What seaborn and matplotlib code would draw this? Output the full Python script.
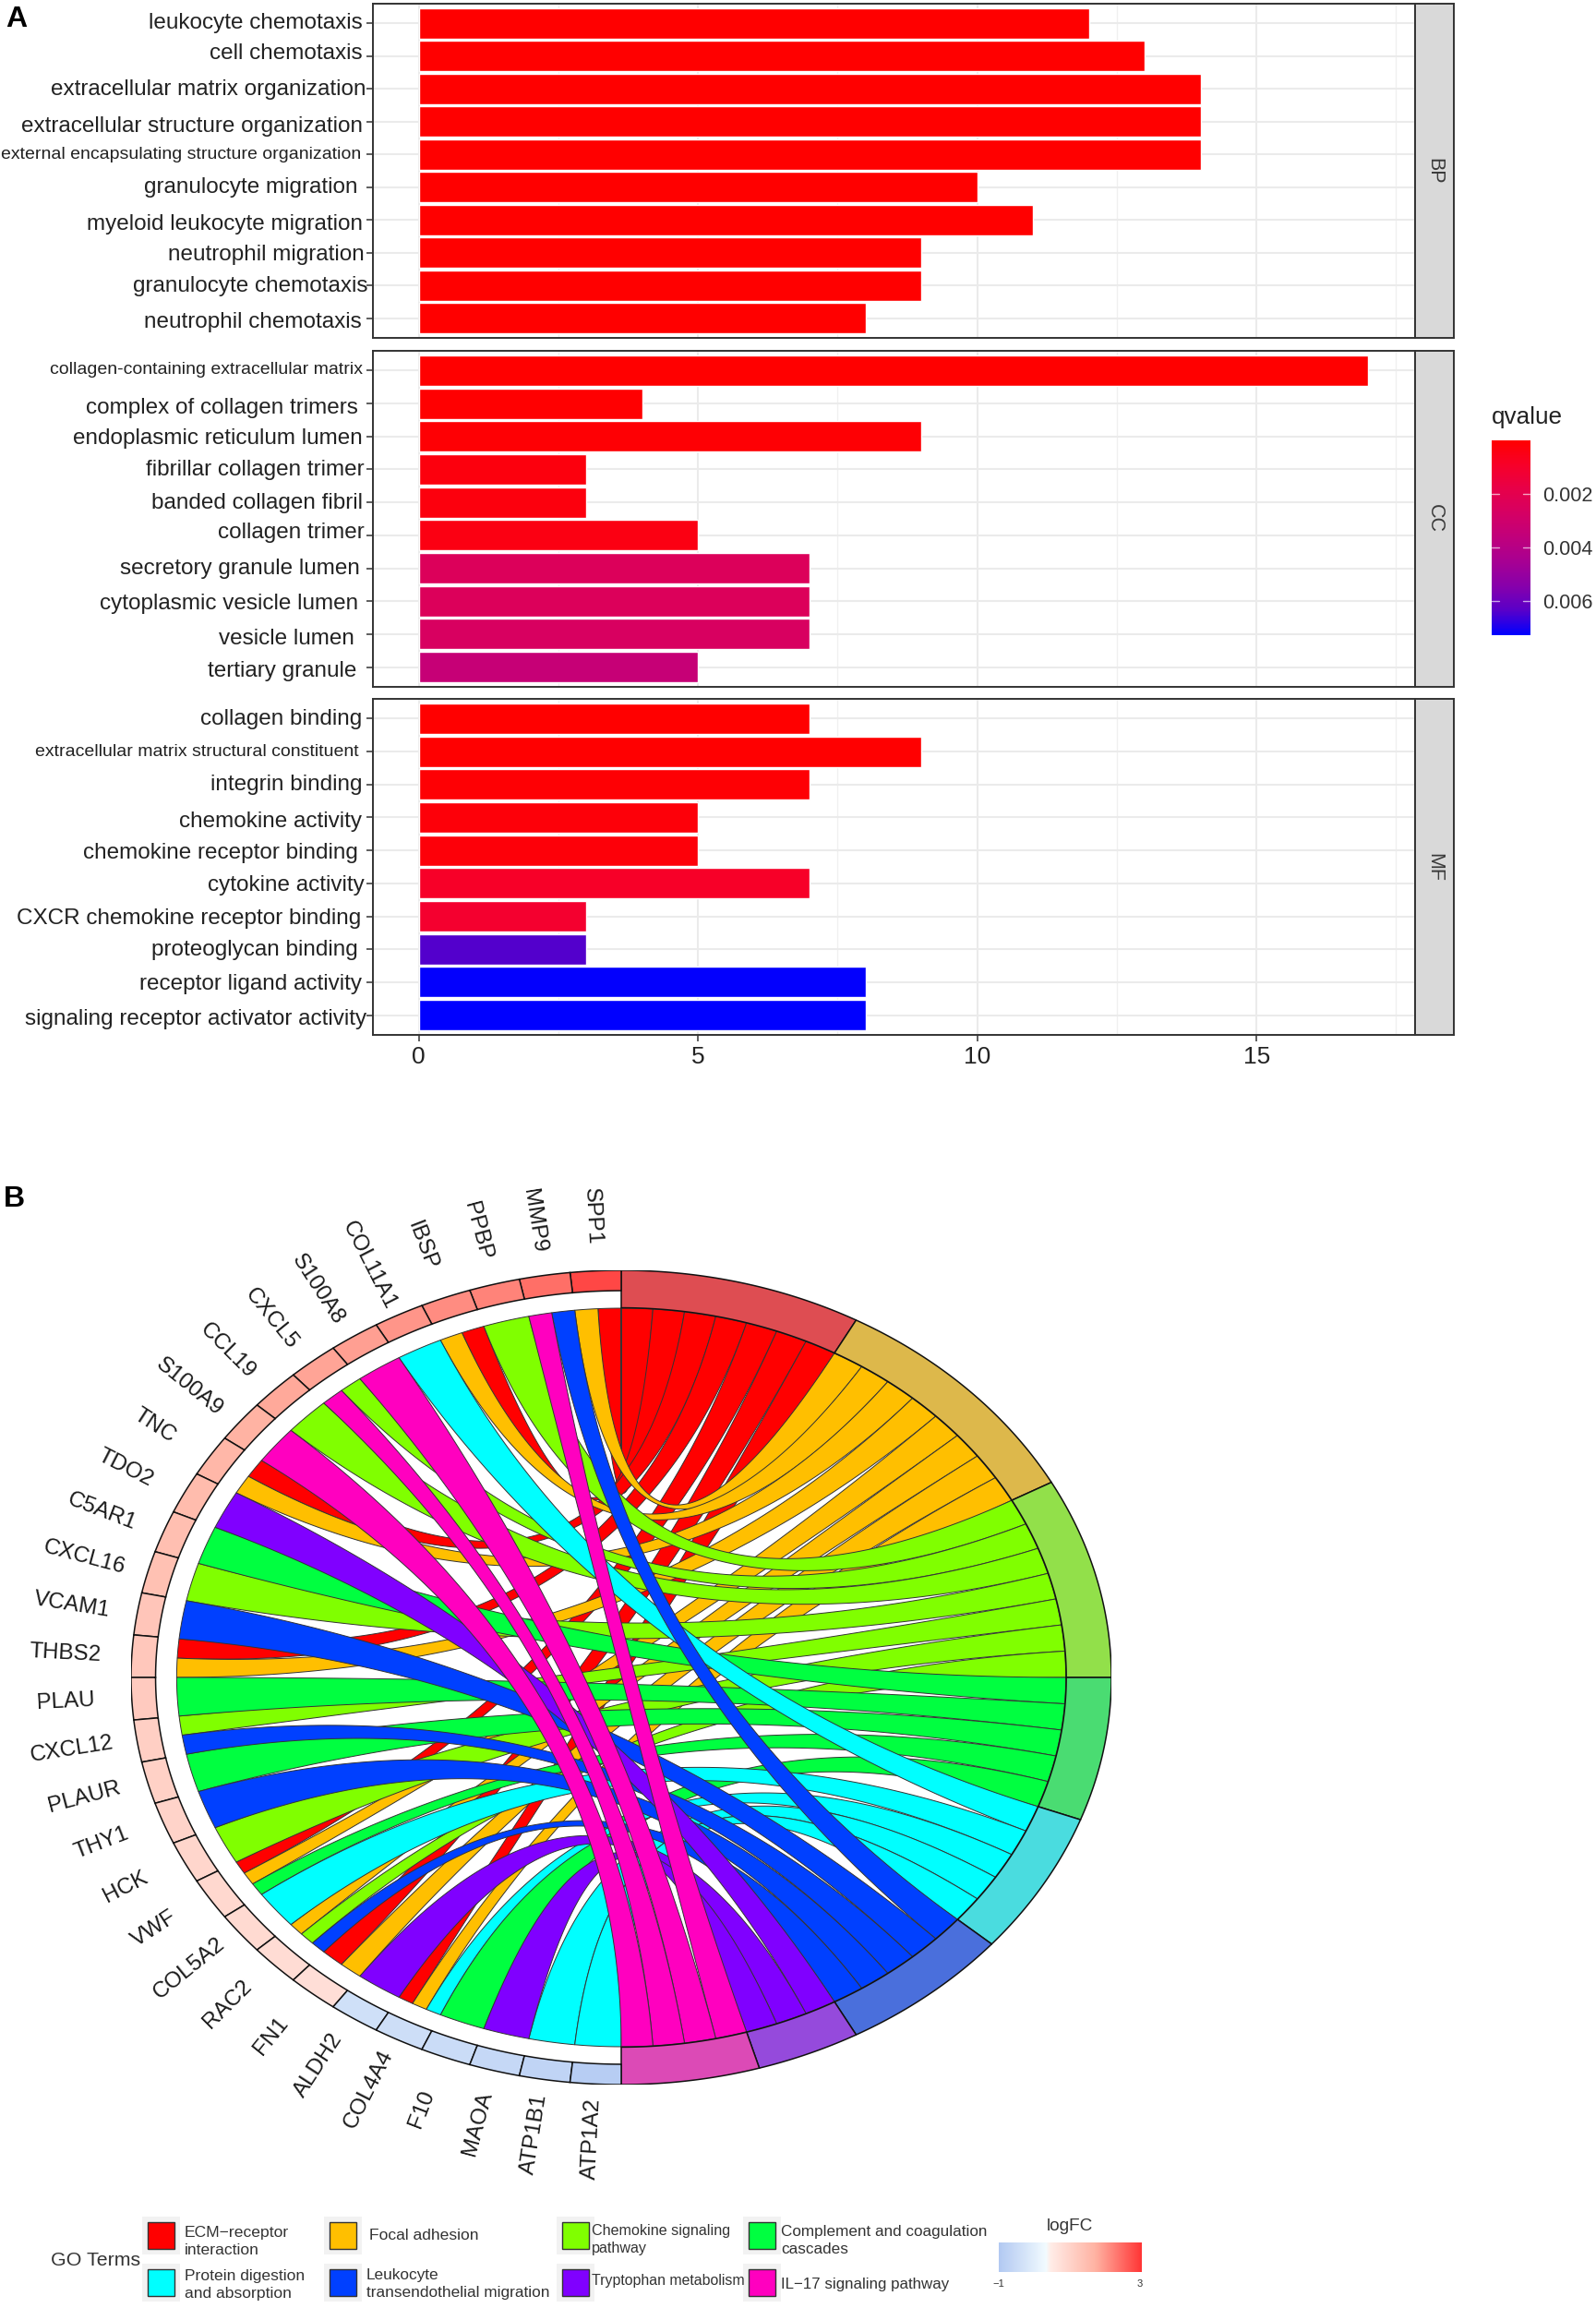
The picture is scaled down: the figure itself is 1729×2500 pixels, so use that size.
import numpy as np
import pandas as pd
import matplotlib
matplotlib.use("Agg")
import matplotlib.pyplot as plt
from matplotlib.colors import LinearSegmentedColormap, Normalize, to_hex
from matplotlib.cm import ScalarMappable
from matplotlib.patches import Rectangle
from matplotlib.transforms import ScaledTranslation
import seaborn as sns

# ---------- data: panel A ----------
bp_terms = ["leukocyte chemotaxis", "cell chemotaxis", "extracellular matrix organization",
            "extracellular structure organization", "external encapsulating structure organization",
            "granulocyte migration", "myeloid leukocyte migration", "neutrophil migration",
            "granulocyte chemotaxis", "neutrophil chemotaxis"]
bp_counts = [12, 13, 14, 14, 14, 10, 11, 9, 9, 8]
bp_q = [1e-5, 1e-5, 1e-5, 1e-5, 1e-5, 1e-5, 1e-5, 1e-5, 1e-5, 1e-5]

cc_terms = ["collagen-containing extracellular matrix", "complex of collagen trimers",
            "endoplasmic reticulum lumen", "fibrillar collagen trimer", "banded collagen fibril",
            "collagen trimer", "secretory granule lumen", "cytoplasmic vesicle lumen",
            "vesicle lumen", "tertiary granule"]
cc_counts = [17, 4, 9, 3, 3, 5, 7, 7, 7, 5]
cc_q = [1e-5, 5e-5, 1e-4, 3e-4, 3e-4, 4e-4, 2.4e-3, 2.4e-3, 2.6e-3, 3.4e-3]

mf_terms = ["collagen binding", "extracellular matrix structural constituent", "integrin binding",
            "chemokine activity", "chemokine receptor binding", "cytokine activity",
            "CXCR chemokine receptor binding", "proteoglycan binding", "receptor ligand activity",
            "signaling receptor activator activity"]
mf_counts = [7, 9, 7, 5, 5, 7, 3, 3, 8, 8]
mf_q = [1e-5, 5e-5, 1e-4, 2e-4, 2e-4, 9e-4, 1.1e-3, 6.4e-3, 7.25e-3, 7.28e-3]

panel_names = ["BP", "CC", "MF"]
x_ticks = [0, 5, 10, 15]
q_ticks = [0.002, 0.004, 0.006]
q_max = 0.00728

# ---------- data: panel B ----------
pathways = ["ECM\u2212receptor\ninteraction", "Focal adhesion", "Chemokine signaling\npathway",
            "Complement and coagulation\ncascades", "Protein digestion\nand absorption",
            "Leukocyte\ntransendothelial migration", "Tryptophan metabolism",
            "IL\u221217 signaling pathway"]
ribbon_colors = ["#FF0000", "#FFBF00", "#80FF00", "#00FF40", "#00FFFF", "#0040FF", "#8000FF", "#FF00BF"]
ring_colors = ["#DE4D52", "#DDB84B", "#92E04A", "#4ADC72", "#4ADCDF", "#4A6FDC", "#954ADC", "#DC4AB6"]

genes = ["SPP1", "MMP9", "PPBP", "IBSP", "COL11A1", "S100A8", "CXCL5", "CCL19", "S100A9", "TNC",
         "TDO2", "C5AR1", "CXCL16", "VCAM1", "THBS2", "PLAU", "CXCL12", "PLAUR", "THY1", "HCK",
         "VWF", "COL5A2", "RAC2", "FN1", "ALDH2", "COL4A4", "F10", "MAOA", "ATP1B1", "ATP1A2"]
log_fc = [2.8, 2.4, 2.2, 2.1, 2.0, 1.9, 1.85, 1.8, 1.7, 1.6, 1.5, 1.45, 1.4, 1.3, 1.25, 1.2,
          1.1, 1.05, 1.0, 0.95, 0.9, 0.85, 0.8, 0.75, -0.4, -0.45, -0.5, -0.6, -0.7, -0.9]
# indices into pathways, one list per gene
memberships = [[0, 1], [5, 7], [2], [0, 1], [4], [7], [2, 7], [2], [7], [0, 1],
               [6], [3], [2], [5], [0, 1], [3], [2, 5], [3], [5], [2],
               [0, 1, 3], [4], [1, 2, 5], [0, 1], [6], [0, 1, 4], [3], [6], [4], [4]]

# ---------- layout ----------
W, H = 1729, 2500
sns.set_theme(style="white")
plt.rcParams["font.family"] = ["Liberation Sans", "DejaVu Sans"]
fig = plt.figure(figsize=(W / 100, H / 100), dpi=100, facecolor="white")


def px_axes(x0, y0, x1, y1, **kw):
    return fig.add_axes([x0 / W, 1 - y1 / H, (x1 - x0) / W, (y1 - y0) / H], **kw)


q_cmap = LinearSegmentedColormap.from_list(
    "q", ["#FF0000", "#F70029", "#E70049", "#D50064", "#C0007C", "#A70093", "#8700AB", "#5800C9", "#0000FF"])
q_norm = Normalize(0, q_max)

panel_rows = [(4, 366), (380, 744), (757, 1121)]
panel_left, panel_right, strip_right = 403.5, 1533, 1575
INK = "#333333"

label_right = [
    [393, 393, 396.5, 393, 391.5, 387, 393, 395, 398.5, 391.5],
    [393, 387.5, 393, 395, 393, 395, 390, 388.5, 384, 386.5],
    [392, 389, 392, 392, 388, 395, 391, 388, 392, 397],
]
label_size = [
    [17.5, 17.5, 17.5, 17.5, 14, 17.5, 17.5, 17.5, 17.5, 17.5],
    [14, 17.5, 17.5, 17.5, 17.5, 17.5, 17.5, 17.5, 17.5, 17.5],
    [17.5, 14, 17.5, 17.5, 17.5, 17.5, 17.5, 17.5, 17.5, 17.5],
]
# vertical nudges of the hand-placed labels, in pixels (positive = down)
label_nudge = [
    [-3, -5, -2, 3, -2, -2, 2, 0, -2, 2],
    [-3, 2, 0, -2, -2, -5, -2, 0, 3, 2],
    [-2, -2, -2, 2, 0, 0, 0, -2, 0, 2],
]
tick_px = 7

panels = [(bp_terms, bp_counts, bp_q), (cc_terms, cc_counts, cc_q), (mf_terms, mf_counts, mf_q)]
for k, (terms, counts, qs) in enumerate(panels):
    y0, y1 = panel_rows[k]
    ax = px_axes(panel_left, y0, panel_right, y1)
    df = pd.DataFrame({"term": terms, "count": counts, "q": qs})
    pal = {t: to_hex(q_cmap(q_norm(q))) for t, q in zip(terms, qs)}
    sns.barplot(data=df, y="term", x="count", hue="term", order=terms, hue_order=terms,
                palette=pal, dodge=False, legend=False, width=0.93, saturation=1, ax=ax)
    ax.set_xlim(-0.83, 17.84)
    ax.set_ylim(9.6, -0.6)
    ax.set_xlabel("")
    ax.set_ylabel("")
    ax.set_axisbelow(True)
    ax.grid(True, which="major", color="#EBEBEB", lw=1.5)
    ax.set_xticks(x_ticks)
    ax.set_xticks([2.5, 7.5, 12.5, 17.5], minor=True)
    ax.grid(True, which="minor", axis="x", color="#F0F0F0", lw=1.0)
    ax.tick_params(axis="x", which="minor", length=0)
    ax.tick_params(axis="y", length=tick_px * 0.72, width=1.1, color=INK, labelcolor="#222222", left=True)
    if k == 2:
        ax.tick_params(axis="x", which="major", length=tick_px * 0.72, width=1.1, color=INK,
                       labelsize=19, labelcolor="#222222", pad=3.5, bottom=True)
    else:
        ax.tick_params(axis="x", which="major", length=0, labelbottom=False)
    for spine in ax.spines.values():
        spine.set_color(INK)
        spine.set_linewidth(1.4)
    for i, tick in enumerate(ax.yaxis.get_major_ticks()):
        tick.set_pad((panel_left - tick_px - label_right[k][i]) * 0.72)
        tick.label1.set_fontsize(label_size[k][i])
        shift = ScaledTranslation(0, -label_nudge[k][i] * 0.72 / 72, fig.dpi_scale_trans)
        tick.label1.set_transform(tick.label1.get_transform() + shift)

    sx = px_axes(panel_right, y0, strip_right, y1)
    sx.set_facecolor("#D9D9D9")
    sx.set_xticks([])
    sx.set_yticks([])
    for spine in sx.spines.values():
        spine.set_color(INK)
        spine.set_linewidth(1.4)
    sx.text(0.5, 0.5, panel_names[k], rotation=-90, ha="center", va="center",
            fontsize=15.5, color="#3A3A3A", transform=sx.transAxes)

# q-value colour bar
cax = px_axes(1616, 477, 1658, 688)
cb = fig.colorbar(ScalarMappable(norm=q_norm, cmap=q_cmap), cax=cax)
cb.outline.set_visible(False)
cax.invert_yaxis()
cb.set_ticks(q_ticks)
cb.set_ticklabels([f"{q:.3f}" for q in q_ticks])
cax.tick_params(length=0, labelsize=15.6, labelcolor="#333333", pad=9.5)
for q in q_ticks:
    cax.plot([0, 0.2], [q, q], color="white", alpha=0.65, lw=1.0, transform=cax.get_yaxis_transform())
    cax.plot([0.8, 1], [q, q], color="white", alpha=0.65, lw=1.0, transform=cax.get_yaxis_transform())

# ---------- panel B: chord diagram ----------
ch = px_axes(142, 1376, 1204, 2258)
ch.set_xlim(-1, 1)
ch.set_ylim(-1, 1)
ch.axis("off")

fc_cmap = LinearSegmentedColormap.from_list(
    "fc", [(0, "#B2C9F2"), (0.33, "#F2FBFF"), (0.36, "#FFEDE8"), (0.675, "#FFB3A3"), (1, "#FF3535")])
fc_norm = Normalize(-1, 3)


def polar(theta_deg, r):
    t = np.deg2rad(theta_deg)
    return r * np.sin(t), r * np.cos(t)


def ring(t0, t1, r0, r1, face):
    th = np.linspace(t0, t1, 60)
    xo, yo = polar(th, r1)
    xi, yi = polar(th[::-1], r0)
    ch.fill(np.r_[xo, xi], np.r_[yo, yi], facecolor=face, edgecolor="#111111", lw=1.1,
            joinstyle="miter", zorder=5)


n_genes = len(genes)
gene_step = 180 / n_genes
n_links = sum(len(m) for m in memberships)
term_step = 180 / n_links
R_LINK = 0.907

# term sectors
term_members = [[g for g, m in enumerate(memberships) if p in m] for p in range(len(pathways))]
cursor = 0
term_start = []
for p, members in enumerate(term_members):
    term_start.append(cursor)
    ring(cursor * term_step, (cursor + len(members)) * term_step, 0.908, 1.0, ring_colors[p])
    cursor += len(members)

# ribbons
t = np.linspace(0, 1, 101)
for p, members in enumerate(term_members):
    for j, g in enumerate(members):
        m = memberships[g]
        pos = m.index(p)
        g0 = -(g + pos / len(m)) * gene_step
        g1 = -(g + (pos + 1) / len(m)) * gene_step
        t0 = (term_start[p] + j) * term_step
        t1 = (term_start[p] + j + 1) * term_step
        xa, ya = polar(g0, R_LINK)
        xb, yb = polar(t0, R_LINK)
        xc, yc = polar(t1, R_LINK)
        xd, yd = polar(g1, R_LINK)
        x1 = (1 - t) ** 2 * xa + t ** 2 * xb
        y1 = (1 - t) ** 2 * ya + t ** 2 * yb
        x2 = (1 - t) ** 2 * xc + t ** 2 * xd
        y2 = (1 - t) ** 2 * yc + t ** 2 * yd
        ax_t, ay_t = polar(np.linspace(t0, t1, 8), R_LINK)
        ax_g, ay_g = polar(np.linspace(g1, g0, 8), R_LINK)
        ch.fill(np.r_[x1, ax_t, x2, ax_g], np.r_[y1, ay_t, y2, ay_g],
                facecolor=ribbon_colors[p], edgecolor="#333333", lw=0.7, zorder=2 + p * 0.1)

# gene sectors and labels
for g, name in enumerate(genes):
    ring(-g * gene_step, -(g + 1) * gene_step, 0.95, 1.0, fc_cmap(fc_norm(log_fc[g])))
    theta = (g + 0.5) * gene_step
    x, y = polar(-theta, 1.135)
    ch.text(x, y, name, rotation=theta - 90, rotation_mode="anchor", ha="center", va="center",
            fontsize=17.4, color="#1A1A1A", zorder=6)

# ---------- overlay: panel letters, qvalue title, legend ----------
ov = px_axes(0, 0, W, H)
ov.set_xlim(0, W)
ov.set_ylim(H, 0)
ov.axis("off")
ov.patch.set_alpha(0)
ov.text(6, 21, "A", fontsize=23, fontweight="bold", color="black", ha="left", va="center")
ov.text(4, 1299, "B", fontsize=23, fontweight="bold", color="black", ha="left", va="center")
ov.text(1616, 452, "qvalue", fontsize=18.8, color="#222222", ha="left", va="center")
ov.text(55, 2448, "GO Terms", fontsize=15.4, color="#333333", ha="left", va="center")

key_slots = [(160, 2407, 200, 2428, 12.6), (357, 2407, 400, 2421, 12.6), (609, 2407, 641, 2426, 11.6),
             (811, 2407, 846, 2427, 12.3), (160, 2458, 200, 2475, 12.6), (357, 2458, 397, 2474, 12.4),
             (609, 2458, 641, 2471, 11.4), (811, 2458, 846, 2475, 12.2)]
for (sx0, sy0, tx, ty, fs), label, col in zip(key_slots, pathways, ribbon_colors):
    ov.add_patch(Rectangle((sx0 - 6, sy0 - 6), 41, 41, facecolor="#F2F2F2", edgecolor="none"))
    ov.add_patch(Rectangle((sx0, sy0), 29, 29, facecolor=col, edgecolor="#333333", lw=1.0))
    ov.text(tx, ty, label, fontsize=fs, color="#333333", ha="left", va="center", linespacing=1.35)

ov.text(1159, 2412, "logFC", fontsize=13.7, color="#333333", ha="center", va="center")
lax = px_axes(1082, 2429, 1237, 2461)
lax.imshow(np.linspace(-1, 3, 256)[None, :], cmap=fc_cmap, norm=fc_norm, aspect="auto", extent=(-1, 3, 0, 1))
lax.axis("off")
ov.text(1082, 2474, "\u22121", fontsize=8, color="#333333", ha="center", va="center")
ov.text(1235, 2474, "3", fontsize=8, color="#333333", ha="center", va="center")

fig.savefig("out.png", dpi=100, facecolor="white")
